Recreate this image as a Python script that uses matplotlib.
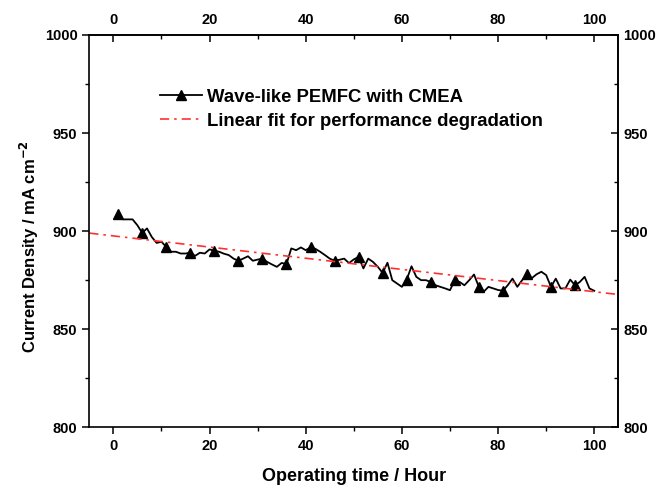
import matplotlib
matplotlib.use("Agg")
import matplotlib.pyplot as plt
from matplotlib.ticker import MultipleLocator

plt.rcParams['font.family'] = ['Liberation Sans', 'DejaVu Sans']
plt.rcParams['font.weight'] = 'bold'

hours = list(range(1, 101))
current = [908.7, 906, 906, 906, 903, 899.1, 901.4, 897, 894, 894.6,
           892, 889.5, 889.5, 888.6, 888.6, 889, 887.4, 889, 888.6, 890.7,
           890, 889.5, 888.5, 887.8, 886, 884.9, 886, 887.2, 884.9, 885.5,
           886, 884.3, 883, 881.8, 883.8, 883.2, 891.2, 890.3, 891.7, 890.3,
           891.7, 891, 889.5, 887.8, 886, 884.9, 885.4, 886, 883.7, 885.6,
           886.9, 881, 886, 884.3, 881.8, 878.7, 883.9, 875, 873.3, 871.6,
           875.3, 882.1, 876.7, 875, 875, 874.1, 872.4, 871.6, 870.8, 869.9,
           875, 874.1, 872.4, 875, 877.9, 871.6, 869.1, 871.6, 870.8, 870,
           869.6, 872.4, 875.8, 871.6, 875, 878.1, 876, 878, 879.3, 877.6,
           871.6, 875.8, 870.8, 870.8, 875.3, 872.4, 874.1, 876.7, 870.8, 869.6]

fit_hours = [-5, 105]
fit_current = [899.0, 867.7]

series_label = "Wave-like PEMFC with CMEA"
fit_label = "Linear fit for performance degradation"
x_ticks = [0, 20, 40, 60, 80, 100]
y_ticks = [800, 850, 900, 950, 1000]

fig = plt.figure(figsize=(6.59, 4.86), dpi=100)
ax = fig.add_axes([89.3/659, 1-427.3/486, (618.3-89.3)/659, (427.3-35)/486])

ln1, = ax.plot(hours, current, color='black', lw=1.3, marker='^', markersize=6.5,
               markevery=5, label=series_label)
ln2, = ax.plot(fit_hours, fit_current, color='#ff3030', lw=1.2,
               dashes=(5.5, 3, 1.5, 3), label=fit_label)

ax.set_xlim(-5, 105)
ax.set_ylim(800, 1000)
ax.set_xticks(x_ticks)
ax.set_yticks(y_ticks)
ax.xaxis.set_minor_locator(MultipleLocator(10))
ax.yaxis.set_minor_locator(MultipleLocator(25))
ax.tick_params(which='major', direction='out', length=5, width=1.1, labelsize=10.5)
ax.tick_params(which='minor', direction='out', length=3, width=1.0)
for s in ax.spines.values():
    s.set_linewidth(1.2)

secx = ax.secondary_xaxis('top')
secx.set_xticks(x_ticks)
secx.xaxis.set_minor_locator(MultipleLocator(10))
secx.tick_params(which='major', direction='in', length=5, width=1.1, labelsize=10.5, pad=6)
secx.tick_params(which='minor', direction='in', length=3, width=1.0)
secx.spines['top'].set_linewidth(1.2)

secy = ax.secondary_yaxis('right')
secy.set_yticks(y_ticks)
secy.yaxis.set_minor_locator(MultipleLocator(25))
secy.tick_params(which='major', direction='in', length=5, width=1.1, labelsize=10.5)
secy.tick_params(which='minor', direction='in', length=3, width=1.0)
secy.spines['right'].set_linewidth(1.2)

ax.set_xlabel("Operating time / Hour", fontsize=13, fontweight='bold', labelpad=11)
ax.set_ylabel("Current Density / mA cm$^{\\mathbf{-2}}$", fontsize=12, fontweight='bold')
ax.yaxis.set_label_coords(-0.092, 0.46)

leg = ax.legend(handles=[ln1, ln2], loc='upper left', bbox_to_anchor=(160/659, 1-88.5/486),
                bbox_transform=fig.transFigure, frameon=False, fontsize=13.3,
                handlelength=2.25, handletextpad=0.28, labelspacing=0.38, borderpad=0, borderaxespad=0)

fig.savefig("out.png", dpi=100)
